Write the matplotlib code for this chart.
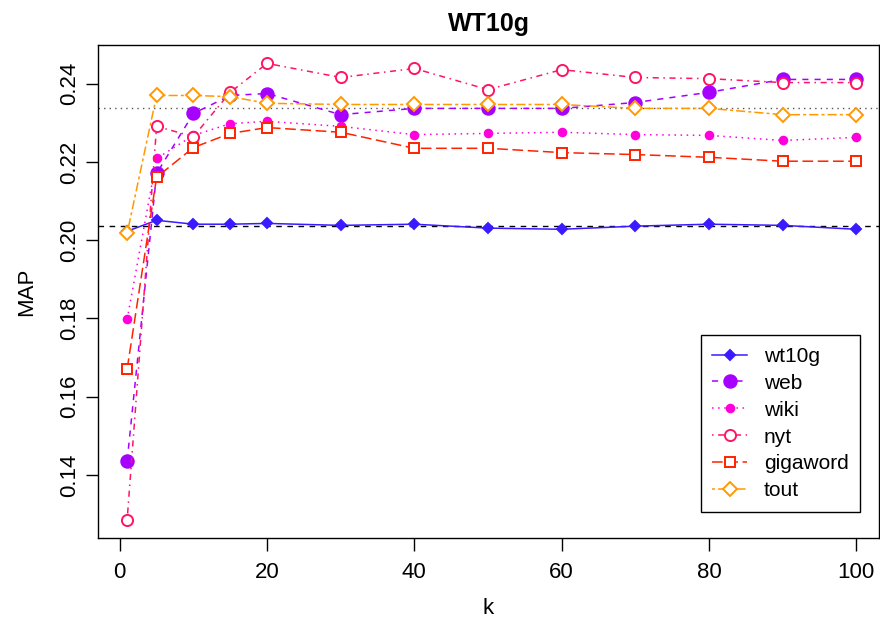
import matplotlib
matplotlib.use('Agg')
import matplotlib.pyplot as plt

plt.rcParams['font.family'] = ['Liberation Sans', 'DejaVu Sans']

# data
k = [1, 5, 10, 15, 20, 30, 40, 50, 60, 70, 80, 90, 100]
wt10g = [0.2023, 0.2051, 0.2041, 0.2041, 0.2043, 0.2038, 0.2041, 0.2031,
         0.2028, 0.2036, 0.2041, 0.2038, 0.2028]
web = [0.1436, 0.2171, 0.2324, 0.2370, 0.2375, 0.2321, 0.2337, 0.2337,
       0.2337, 0.2352, 0.2378, 0.2411, 0.2411]
wiki = [0.1798, 0.2209, 0.2268, 0.2298, 0.2304, 0.2291, 0.2270, 0.2273,
        0.2276, 0.2270, 0.2268, 0.2255, 0.2263]
nyt = [0.1286, 0.2291, 0.2265, 0.2378, 0.2452, 0.2416, 0.2439, 0.2385,
       0.2436, 0.2416, 0.2413, 0.2403, 0.2403]
gigaword = [0.1671, 0.2161, 0.2237, 0.2273, 0.2288, 0.2276, 0.2235, 0.2235,
            0.2224, 0.2219, 0.2212, 0.2202, 0.2202]
tout = [0.2018, 0.2370, 0.2370, 0.2367, 0.2350, 0.2347, 0.2347, 0.2347,
        0.2347, 0.2337, 0.2337, 0.2321, 0.2321]
baseline = 0.2036
best_line = 0.2339

names = ['wt10g', 'web', 'wiki', 'nyt', 'gigaword', 'tout']
series = [wt10g, web, wiki, nyt, gigaword, tout]

# style per series (R-like lty / pch)
styles = [
    dict(color='#3A1BFF', ls='-', marker='D', ms=5, mfc='#3A1BFF'),
    dict(color='#A600FF', ls=(0, (4, 4)), marker='o', ms=9, mfc='#A600FF'),
    dict(color='#FF00DD', ls=(0, (1, 3)), marker='o', ms=5.5, mfc='#FF00DD'),
    dict(color='#FF1466', ls=(0, (1, 3, 4, 3)), marker='o', ms=8, mfc='white'),
    dict(color='#FF2200', ls=(0, (7, 3)), marker='s', ms=7.5, mfc='white'),
    dict(color='#FF9900', ls=(0, (2, 2, 6, 2)), marker='D', ms=7, mfc='white'),
]

fig = plt.figure(figsize=(8.8, 6.2), dpi=100)
ax = fig.add_axes([98 / 880, 1 - 538 / 620, 781 / 880, 493 / 620])

ax.axhline(baseline, color='black', ls=(0, (4, 4)), lw=1)
ax.axhline(best_line, color='#555555', ls=(0, (1, 3)), lw=1)

for name, vals, st in zip(names, series, styles):
    ax.plot(k, vals, label=name, color=st['color'], ls=st['ls'], lw=1.1,
            marker=st['marker'], ms=st['ms'], mfc=st['mfc'],
            mec=st['color'], mew=1.4)

ax.set_xlim(-2.96, 103.1)
ax.set_ylim(0.1239, 0.2499)
ax.set_xticks([0, 20, 40, 60, 80, 100])
ax.set_yticks([0.14, 0.16, 0.18, 0.20, 0.22, 0.24])
ax.set_yticklabels(['0.14', '0.16', '0.18', '0.20', '0.22', '0.24'],
                   rotation=90, va='center')
ax.tick_params(labelsize=16, length=9, width=1, direction='out')
ax.tick_params(axis='x', pad=8)
ax.tick_params(axis='y', pad=4)
for s in ax.spines.values():
    s.set_linewidth(1)

ax.set_xlabel('k', fontsize=16, labelpad=11)
ax.set_ylabel('MAP', fontsize=16, labelpad=16)
ax.set_title('WT10g', fontsize=18, fontweight='bold', pad=10)

leg = ax.legend(loc='lower right', bbox_to_anchor=(0.976, 0.053),
                fontsize=15, handlelength=1.7, labelspacing=0.38,
                borderpad=0.55, handletextpad=0.8, borderaxespad=0,
                fancybox=False, edgecolor='black', framealpha=1)
leg.get_frame().set_linewidth(1)

fig.savefig('out.png', dpi=100)
